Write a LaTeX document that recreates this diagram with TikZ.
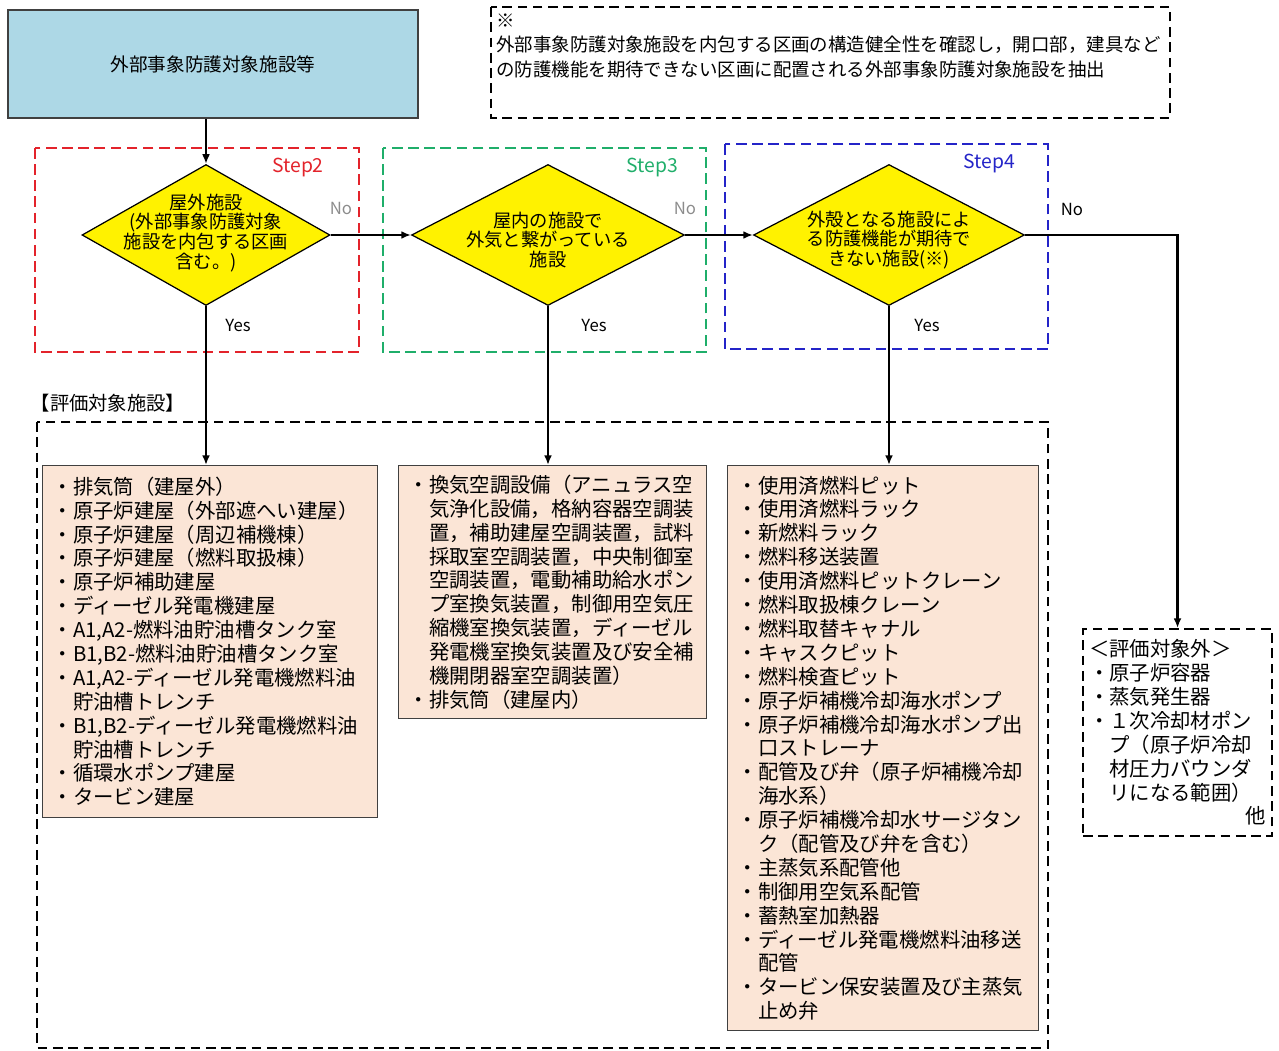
\documentclass[tikz,border=0pt]{standalone}
\usepackage{fontspec}
\setmainfont{Noto Sans CJK JP}
\usetikzlibrary{arrows.meta,shapes.geometric,calc}
\definecolor{skyfill}{HTML}{ADD8E6}
\definecolor{peach}{HTML}{FBE5D6}
\definecolor{boxline}{HTML}{404040}
\definecolor{steptwo}{HTML}{E3232B}
\definecolor{stepthree}{HTML}{1FAE6A}
\definecolor{stepfour}{HTML}{2424C8}
\definecolor{nogray}{HTML}{8C8C8C}

\begin{document}
\begin{tikzpicture}[x=0.02cm,y=-0.02cm,>={Latex[length=5.5pt,width=4.5pt]},
  flow/.style={->,line width=1.2pt},
  stepbox/.style={dash pattern=on 6pt off 3.2pt,line width=1.4pt},
  notebox/.style={dash pattern=on 5.5pt off 3.2pt,line width=1.2pt,draw=black},
  decision/.style={diamond,draw=black,fill=yellow,line width=0.7pt,inner sep=0pt,minimum height=2.82cm},
  dtext/.style={align=center,inner sep=0pt,font=\fontsize{10.4}{11.3}\selectfont},
  listbox/.style={anchor=north west,draw=boxline,fill=peach,line width=0.8pt,align=left,inner ysep=0pt,
    font=\fontsize{11.6}{13.6}\selectfont},
  steplabel/.style={font=\fontsize{11}{12}\selectfont},
  ynlabel/.style={font=\fontsize{9.5}{11}\selectfont}]
\useasboundingbox (0,0) rectangle (1279,1051);

\node[draw=boxline,fill=skyfill,line width=0.9pt,minimum width=8.2cm,minimum height=2.16cm,
  font=\fontsize{10.6}{12}\selectfont] (facility) at (213,64) {外部事象防護対象施設等};

\draw[notebox] (491,7) rectangle (1170,118);
\node[anchor=north west,align=left,inner sep=0pt,font=\fontsize{10.5}{14.2}\selectfont] (note) at (496,13)
  {※\\外部事象防護対象施設を内包する区画の構造健全性を確認し，開口部，建具など\\の防護機能を期待できない区画に配置される外部事象防護対象施設を抽出};

\draw[stepbox,steptwo] (35,148) rectangle (359,352);
\draw[stepbox,stepthree] (383,148) rectangle (706,352);
\draw[stepbox,stepfour] (725,144) rectangle (1048,349);
\node[steplabel,text=steptwo] (s2) at (298,168) {Step2};
\node[steplabel,text=stepthree] (s3) at (652,168) {Step3};
\node[steplabel,text=stepfour] (s4) at (989,164) {Step4};

\node[decision,minimum width=4.96cm] (d1) at (206,235) {};
\node[decision,minimum width=5.46cm] (d2) at (548,235) {};
\node[decision,minimum width=5.42cm] (d3) at (889,235) {};
\node[dtext] (d1txt) at (206,233) {屋外施設\\(外部事象防護対象\\施設を内包する区画\\含む。)};
\node[dtext] (d2txt) at (548,240) {屋内の施設で\\外気と繋がっている\\施設};
\node[dtext] (d3txt) at (889,240) {外殻となる施設によ\\る防護機能が期待で\\きない施設(※)};

\node[ynlabel,text=nogray] (no1) at (341,208) {No};
\node[ynlabel,text=nogray] (no2) at (685,208) {No};
\node[ynlabel] (no3) at (1072,209) {No};
\node[ynlabel] (yes1) at (238,325) {Yes};
\node[ynlabel] (yes2) at (594,325) {Yes};
\node[ynlabel] (yes3) at (927,325) {Yes};

\draw[notebox] (37,422) rectangle (1048,1048);
\node[font=\fontsize{11}{12}\selectfont] (evaltitle) at (108,403) {【評価対象施設】};

\node[listbox,text width=6.3cm,inner xsep=0.2cm,minimum height=7.04cm] (evalA) at (42,465) {%
・排気筒（建屋外）\\
・原子炉建屋（外部遮へい建屋）\\
・原子炉建屋（周辺補機棟）\\
・原子炉建屋（燃料取扱棟）\\
・原子炉補助建屋\\
・ディーゼル発電機建屋\\
・A1,A2-燃料油貯油槽タンク室\\
・B1,B2-燃料油貯油槽タンク室\\
・A1,A2-ディーゼル発電機燃料油\\
\hspace*{1em}貯油槽トレンチ\\
・B1,B2-ディーゼル発電機燃料油\\
\hspace*{1em}貯油槽トレンチ\\
・循環水ポンプ建屋\\
・タービン建屋};

\node[listbox,text width=5.76cm,inner xsep=0.2cm,minimum height=5.06cm] (evalB) at (398,465) {%
・換気空調設備（アニュラス空\\
\hspace*{1em}気浄化設備，格納容器空調装\\
\hspace*{1em}置，補助建屋空調装置，試料\\
\hspace*{1em}採取室空調装置，中央制御室\\
\hspace*{1em}空調装置，電動補助給水ポン\\
\hspace*{1em}プ室換気装置，制御用空気圧\\
\hspace*{1em}縮機室換気装置，ディーゼル\\
\hspace*{1em}発電機室換気装置及び安全補\\
\hspace*{1em}機開閉器室空調装置）\\
・排気筒（建屋内）};

\node[listbox,text width=5.82cm,inner xsep=0.2cm,minimum height=11.3cm] (evalC) at (727,465) {%
・使用済燃料ピット\\
・使用済燃料ラック\\
・新燃料ラック\\
・燃料移送装置\\
・使用済燃料ピットクレーン\\
・燃料取扱棟クレーン\\
・燃料取替キャナル\\
・キャスクピット\\
・燃料検査ピット\\
・原子炉補機冷却海水ポンプ\\
・原子炉補機冷却海水ポンプ出\\
\hspace*{1em}口ストレーナ\\
・配管及び弁（原子炉補機冷却\\
\hspace*{1em}海水系）\\
・原子炉補機冷却水サージタン\\
\hspace*{1em}ク（配管及び弁を含む）\\
・主蒸気系配管他\\
・制御用空気系配管\\
・蓄熱室加熱器\\
・ディーゼル発電機燃料油移送\\
\hspace*{1em}配管\\
・タービン保安装置及び主蒸気\\
\hspace*{1em}止め弁};

\node[notebox,anchor=north west,align=left,text width=3.54cm,inner xsep=0.12cm,inner ysep=0pt,
  minimum height=4.14cm,font=\fontsize{11.6}{13.6}\selectfont] (outside) at (1082,628) {%
＜評価対象外＞\\
・原子炉容器\\
・蒸気発生器\\
・１次冷却材ポン\\
\hspace*{1em}プ（原子炉冷却\\
\hspace*{1em}材圧力バウンダ\\
\hspace*{1em}リになる範囲）\\
\hspace*{\fill}他};

\draw[flow] (d1.north |- facility.south) -- (d1.north);
\draw[flow] (d1.east) -- (d2.west);
\draw[flow] (d2.east) -- (d3.west);
\draw[flow] (d3.east) -| (outside.north);
\draw[flow] (d1.south) -- (d1.south |- evalA.north);
\draw[flow] (d2.south) -- (d2.south |- evalB.north);
\draw[flow] (d3.south) -- (d3.south |- evalC.north);
\end{tikzpicture}
\end{document}
